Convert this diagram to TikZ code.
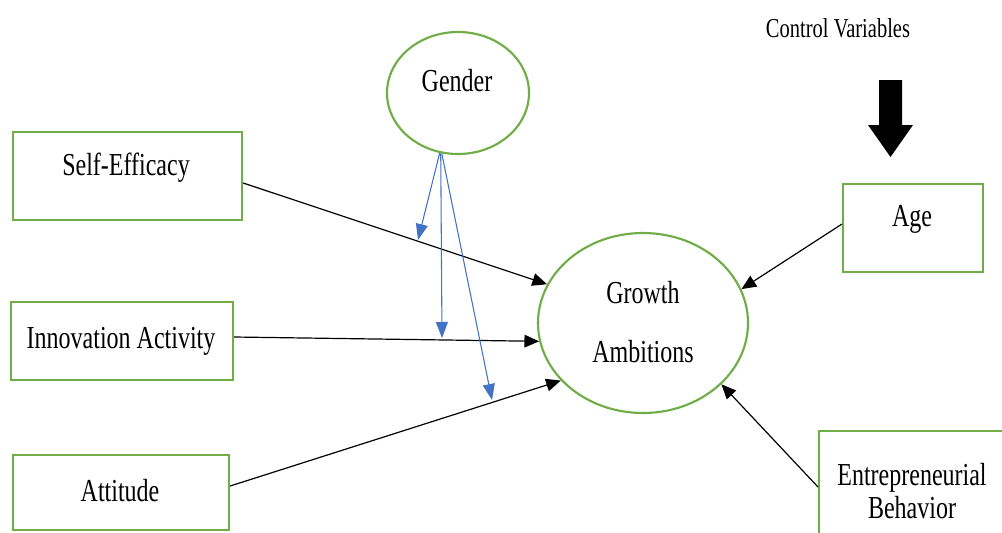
\documentclass[tikz,border=0pt]{standalone}
\usepackage{fontspec}
\setmainfont{Liberation Serif}[FakeStretch=0.75]
\usetikzlibrary{arrows.meta,shapes.geometric,calc}
\definecolor{gr}{HTML}{70AD47}
\definecolor{bl}{HTML}{4472C4}
\begin{document}
\begin{tikzpicture}[x=0.75pt,y=-0.75pt,
  box/.style={draw=gr,line width=1.6pt,rectangle,inner sep=0,anchor=north west},
  oval/.style={draw=gr,line width=1.6pt,ellipse,inner sep=0},
  txt/.style={font=\fontsize{24}{28}\selectfont,inner sep=0,anchor=base},
  arr/.style={line width=0.9pt,-{Triangle[length=11pt,width=9.5pt]}},
  barr/.style={draw=bl,line width=0.8pt,-{Triangle[length=12pt,width=9pt]}}]
\clip (0,0) rectangle (1002,532);
\fill[white] (0,0) rectangle (1002,532);

% nodes
\node[box,minimum width=171.75pt,minimum height=66pt] (se) at (12,131) {};
\node[box,minimum width=166.5pt,minimum height=58.5pt] (ia) at (10,301) {};
\node[box,minimum width=162pt,minimum height=56.25pt] (at) at (12,454) {};
\node[box,minimum width=105pt,minimum height=66pt] (age) at (842,183) {};
\node[box,minimum width=150pt,minimum height=90pt] (eb) at (818,430) {};
\node[oval,minimum width=106.5pt,minimum height=91.5pt] (gen) at (458,93) {};
\node[oval,minimum width=157.5pt,minimum height=135pt] (ga) at (643,323) {};

% texts
\node[txt,font=\fontsize{20.5}{24}\selectfont] (cv) at (838,37) {Control Variables};
\node[txt] (tgen) at (457,91) {Gender};
\node[txt] (tse) at (126,175) {Self-Efficacy};
\node[txt] (tia) at (121,348) {Innovation Activity};
\node[txt] (tat) at (120,501) {Attitude};
\node[txt] (tage) at (912,226) {Age};
\node[txt] (teb1) at (912,485) {Entrepreneurial};
\node[txt] (teb2) at (912,518) {Behavior};
\node[txt] (tga1) at (643,303) {Growth};
\node[txt] (tga2) at (643,362) {Ambitions};

% big arrow
\fill[black] (879,80) -- (902,80) -- (902,125) -- (913,125) -- (890.5,157)
  -- (868,125) -- (879,125) -- cycle;

% connectors
\draw[arr] ($(se.north east)+(0,52)$) -- (ga.158);
\draw[arr] ($(ia.north east)+(0,36)$) -- (ga.190);
\draw[arr] ($(at.north east)+(0,32)$) -- (ga.215);
\draw[arr] ($(age.north west)+(0,41)$) -- (ga.19);
\draw[arr] ($(eb.north west)+(0,57)$) -- (ga.322);

% moderator arrows
\coordinate (m1) at (418,240);
\coordinate (m2) at (442,338);
\coordinate (m3) at (492,400);
\draw[barr] (gen.253) -- (m1);
\draw[barr] (gen.254) -- (m2);
\draw[barr] (gen.255) -- (m3);
\end{tikzpicture}
\end{document}
